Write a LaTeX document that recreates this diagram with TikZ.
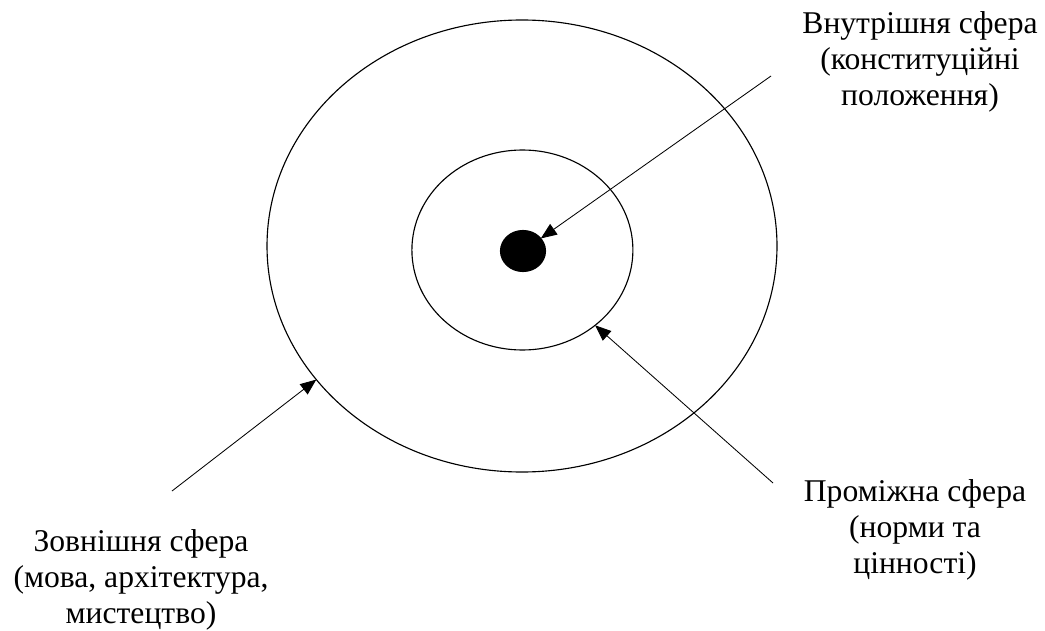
\documentclass[tikz,border=0pt]{standalone}
\usepackage{fontspec}
\setmainfont{Liberation Serif}
\usetikzlibrary{arrows.meta,shapes.geometric}

\begin{document}
\begin{tikzpicture}[>={Triangle[length=0.4cm,width=0.32cm]},
  sphere/.style={ellipse,draw,line width=0.8pt,inner sep=0pt,outer sep=0pt},
  lbl/.style={align=center,font=\fontsize{22.5}{25.5}\selectfont}]
  \useasboundingbox (0,0) rectangle (26.125,15.75);
  \node[sphere,minimum width=12.75cm,minimum height=11.3cm] (outer) at (13.05,9.6) {};
  \node[sphere,minimum width=5.525cm,minimum height=5cm] (inner) at (13.06,9.5) {};
  \node[sphere,fill,minimum width=1.125cm,minimum height=1.025cm] (dot) at (13.075,9.475) {};
  \coordinate (a) at (19.275,13.85);
  \coordinate (b) at (4.3,3.475);
  \coordinate (c) at (19.325,3.675);
  \draw[->,line width=0.6pt] (a) -- (dot);
  \draw[->,line width=0.6pt] (b) -- (outer.213.8);
  \draw[->,line width=0.6pt] (c) -- (inner.314.8);
  \node[lbl] (innerlab) at (23.0,14.2) {Внутрішня сфера\\(конституційні\\положення)};
  \node[lbl] (midlab) at (22.875,2.5) {Проміжна сфера\\(норми та\\цінності)};
  \node[lbl] (outerlab) at (3.525,1.25) {Зовнішня сфера\\(мова, архітектура,\\мистецтво)};
\end{tikzpicture}
\end{document}
